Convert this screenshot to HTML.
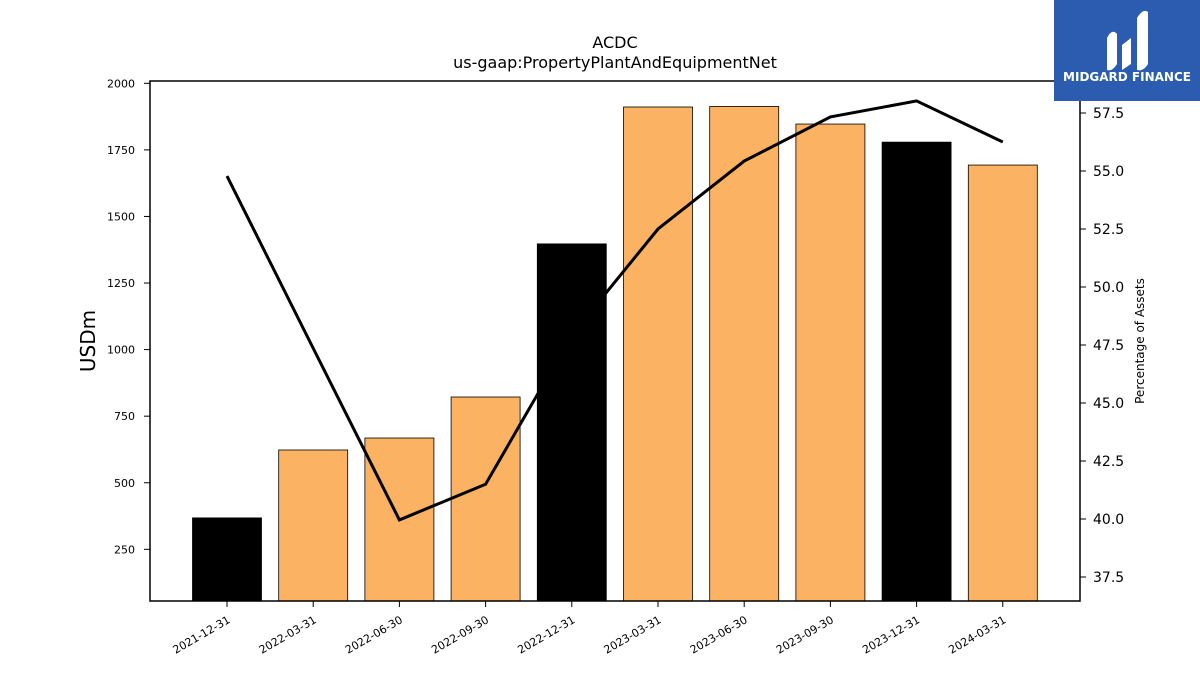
<!DOCTYPE html>
<html><head><meta charset="utf-8"><style>
body{margin:0;background:#fff;font-family:"Liberation Sans","DejaVu Sans",sans-serif;}
svg text{font-family:"DejaVu Sans","Liberation Sans",sans-serif;}
</style></head><body>
<svg id="chart" width="1200" height="675" viewBox="0 0 1200 675" xmlns="http://www.w3.org/2000/svg">
<text x="615" y="48" font-size="16" text-anchor="middle">ACDC</text>
<text x="615" y="68" font-size="16" text-anchor="middle">us-gaap:PropertyPlantAndEquipmentNet</text>
<g id="bars"></g>
<g id="line"></g>
<rect x="150" y="81" width="930" height="520" fill="none" stroke="#000" stroke-width="1.5"/>
<g id="yleft"></g>
<g id="yright"></g>
<g id="xaxis"></g>
<text transform="translate(95,341) rotate(-90)" font-size="20" text-anchor="middle">USDm</text>
<text transform="translate(1144,341) rotate(-90)" font-size="12" text-anchor="middle">Percentage of Assets</text>
<g>
<rect x="1054" y="0" width="146" height="101" fill="#2b5caf"/>
<path d="M1107 70 L1107 38 Q1112 28 1117 34 L1117 64 Q1112 72 1107 70Z M1122 70 L1122 45 L1131 38 L1131 64 Z M1137 70 L1137 18 Q1143 8 1148 12 L1148 64 Q1143 72 1137 70Z" fill="#fff"/>
<text x="1127" y="81" font-size="12" font-weight="bold" fill="#fff" text-anchor="middle">MIDGARD FINANCE</text>
</g>
</svg>
<script>
const categories=["2021-12-31","2022-03-31","2022-06-30","2022-09-30","2022-12-31","2023-03-31","2023-06-30","2023-09-30","2023-12-31","2024-03-31"];
const barValues=[368,623,668,822,1397,1911,1913,1847,1779,1693];
const pctValues=[54.78,47.36,39.96,41.5,47.93,52.5,55.43,57.33,58.02,56.25];
const leftTicks=[250,500,750,1000,1250,1500,1750,2000];
const rightTicks=[37.5,40.0,42.5,45.0,47.5,50.0,52.5,55.0,57.5];
const NS="http://www.w3.org/2000/svg";
const x=i=>227+i*86.2;
const yL=v=>83.3+(2000-v)*0.2663;
const yR=v=>113+(57.5-v)*23.2;
function mk(t,a,p){const e=document.createElementNS(NS,t);for(const k in a)e.setAttribute(k,a[k]);p.appendChild(e);return e;}
const bars=document.getElementById('bars');
barValues.forEach((v,i)=>{
 const r=mk('rect',{x:x(i)-34.5,y:yL(v),width:69,height:601-yL(v),fill:categories[i].endsWith('12-31')?'#000':'#fbb262',stroke:'#000','stroke-width':0.8},bars);
 
 
});
const pl=mk('polyline',{points:pctValues.map((v,i)=>x(i)+','+yR(v)).join(' '),fill:'none',stroke:'#000','stroke-width':3},document.getElementById('line'));


const yl=document.getElementById('yleft');
leftTicks.forEach(v=>{
 mk('line',{x1:144,x2:150,y1:yL(v),y2:yL(v),stroke:'#000'},yl);
 const t=mk('text',{x:135,y:yL(v)+4,'font-size':11,'text-anchor':'end'},yl);t.textContent=v;
 
 
});
const yr=document.getElementById('yright');
rightTicks.forEach(v=>{
 mk('line',{x1:1080,x2:1086,y1:yR(v),y2:yR(v),stroke:'#000'},yr);
 const t=mk('text',{x:1093,y:yR(v)+5,'font-size':14},yr);t.textContent=v.toFixed(1);
 
 
});
const xa=document.getElementById('xaxis');
categories.forEach((c,i)=>{
 mk('line',{x1:x(i),x2:x(i),y1:601,y2:607,stroke:'#000'},xa);
 const t=mk('text',{transform:`translate(${x(i)+4},${622}) rotate(-30)`,'font-size':11,'text-anchor':'end'},xa);t.textContent=c;
 
 
});
</script>
</body></html>
